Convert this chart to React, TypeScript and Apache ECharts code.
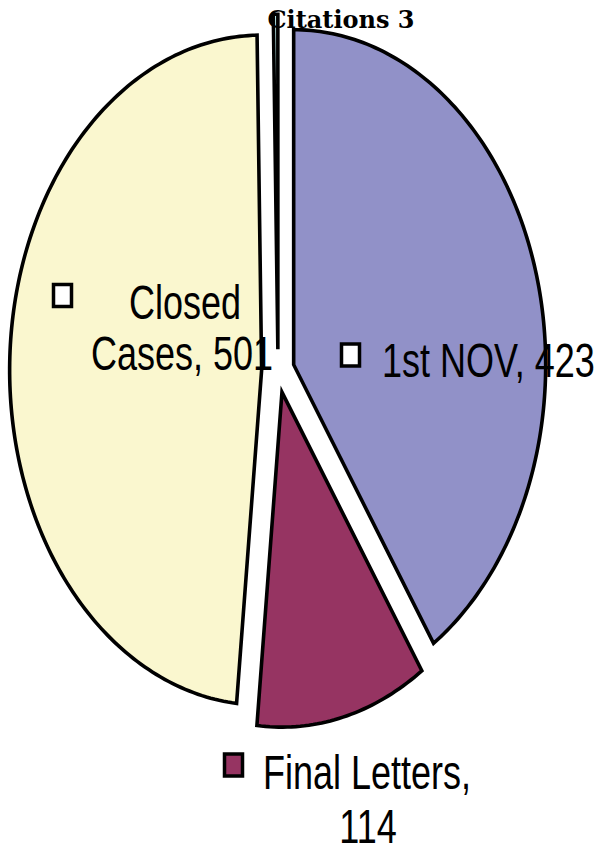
import React, { useEffect, useRef } from "react";
import * as echarts from "echarts";

// ---- data ----
const CATEGORIES = ["1st NOV", "Final Letters", "Closed Cases", "Citations"];
const VALUES = [423, 114, 501, 3];

// ---- style / layout (not data) ----
const COLORS = ["#9191C8", "#963462", "#FAF7CF", "#CCFFFF"];
const KEY_FILLS = ["#FFFFFF", "#963462", "#FFFFFF", null];
const CENTER = [278, 371];
const RX = 252;
const RY = 335;
const EXPLODE = 0.065;
const TEXT_SCALE_Y = 1.35;
const LABEL_FONT = '36px "Liberation Sans", Arial, sans-serif';

// where each label breaks (after n words; 0 = no break) and where its parts sit
const LABEL_LAYOUT: any[] = [
  { split: 0, key: [350.5, 355], lines: [[382, 360, "left"]] },
  { split: 2, key: [233.5, 765], lines: [[263, 772, "left"], [368, 826, "center"]] },
  { split: 1, key: [62.5, 295.5], lines: [[185, 301.5, "center"], [182, 353, "center"]] },
  null,
];

function labelLines(i: number): string[] {
  const text = `${CATEGORIES[i]}, ${VALUES[i]}`;
  const lay = LABEL_LAYOUT[i];
  if (!lay || !lay.split) return [text];
  const words = text.split(" ");
  return [words.slice(0, lay.split).join(" "), words.slice(lay.split).join(" ")];
}

export default function App() {
  const ref = useRef<HTMLDivElement>(null);
  useEffect(() => {
    if (!ref.current) return;
    const chart = echarts.init(ref.current, null, { renderer: "svg" });
    const total = VALUES.reduce((a, b) => a + b, 0);
    const starts: number[] = [];
    let acc = 0;
    VALUES.forEach((v) => {
      starts.push(acc);
      acc += v;
    });

    const renderItem = (params: any, api: any) => {
      const i = params.dataIndex;
      const v = api.value(0);
      const a0 = (starts[i] / total) * Math.PI * 2;
      const a1 = a0 + (v / total) * Math.PI * 2;
      const mid = (a0 + a1) / 2;
      const ax = CENTER[0] + EXPLODE * RX * Math.sin(mid);
      const ay = CENTER[1] - EXPLODE * RY * Math.cos(mid);
      const pts: number[][] = [[ax, ay]];
      const n = Math.max(4, Math.ceil(((a1 - a0) / (Math.PI * 2)) * 360));
      for (let k = 0; k <= n; k++) {
        const a = a0 + ((a1 - a0) * k) / n;
        pts.push([ax + RX * Math.sin(a), ay - RY * Math.cos(a)]);
      }
      const children: any[] = [
        {
          type: "polygon",
          shape: { points: pts },
          style: { fill: COLORS[i], stroke: "#000", lineWidth: 3.6, lineJoin: "miter" },
        },
      ];
      const lay = LABEL_LAYOUT[i];
      if (lay) {
        children.push({
          type: "rect",
          shape: { x: lay.key[0] - 9, y: lay.key[1] - 11, width: 18, height: 22 },
          style: { fill: KEY_FILLS[i], stroke: "#000", lineWidth: 3.5 },
          z2: 10,
        });
        labelLines(i).forEach((t, j) => {
          const p = lay.lines[j];
          children.push({
            type: "text",
            x: p[0],
            y: p[1],
            scaleY: TEXT_SCALE_Y,
            z2: 10,
            style: {
              text: t,
              x: 0,
              y: 0,
              font: LABEL_FONT,
              fill: "#000",
              align: p[2],
              verticalAlign: "middle",
            },
          });
        });
      }
      return { type: "group", children };
    };

    chart.setOption({
      animation: false,
      backgroundColor: "#ffffff",
      series: [
        {
          type: "custom",
          coordinateSystem: "none",
          renderItem,
          data: VALUES.map((v) => [v]),
        },
      ],
      graphic: [
        {
          type: "text",
          x: 341,
          y: 19,
          z: 100,
          style: {
            text: `${CATEGORIES[3]} ${VALUES[3]}`,
            font: 'bold 24px "DejaVu Serif", serif',
            fill: "#000",
            align: "center",
            verticalAlign: "middle",
          },
        },
      ],
    });
    return () => chart.dispose();
  }, []);
  return (
    <div
      ref={ref}
      style={{ position: "absolute", left: 0, top: 0, width: 599, height: 852 }}
    />
  );
}
